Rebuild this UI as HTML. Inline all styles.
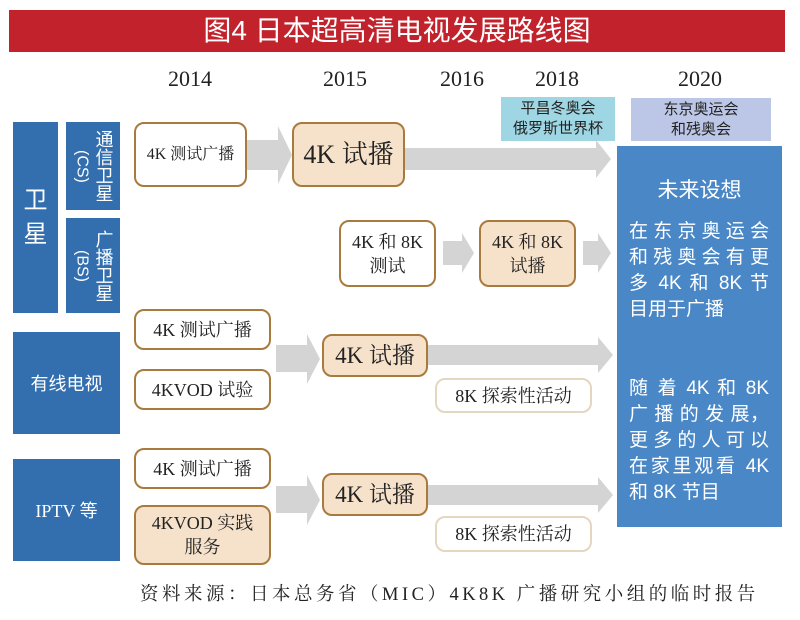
<!DOCTYPE html>
<html><head><meta charset="utf-8"><style>
body{margin:0;width:800px;height:620px;background:#fff;position:relative;overflow:hidden;font-family:"Liberation Serif","Noto Serif CJK SC","Noto Sans CJK SC",serif;}
.a{position:absolute;box-sizing:border-box;}
.blue{background:#336fae;color:#fff;display:flex;align-items:center;justify-content:center;font-family:"Liberation Sans","Noto Sans CJK SC",sans-serif;}
.bx{border:2.5px solid #a97a3e;border-radius:10px;background:#fff;display:flex;align-items:center;justify-content:center;text-align:center;color:#222;font-size:18px;line-height:24px;}
.pk{background:#f6e2ca;}
.lt{border-color:#e5d6bf;}
.yr{position:absolute;top:66px;font-size:22px;color:#222;width:80px;text-align:center;}
.ar{position:absolute;}
.j div{text-align:justify;text-align-last:justify;height:26px;}
</style></head><body>
<div class="a" style="left:9px;top:10px;width:776px;height:42px;background:#c1222b;color:#fff;font-family:'Liberation Sans','Noto Sans CJK SC',sans-serif;font-size:28px;text-align:center;line-height:42px;">图4 日本超高清电视发展路线图</div>
<div class="yr" style="left:150px">2014</div>
<div class="yr" style="left:305px">2015</div>
<div class="yr" style="left:422px">2016</div>
<div class="yr" style="left:517px">2018</div>
<div class="yr" style="left:660px">2020</div>
<div class="a" style="left:501px;top:97px;width:114px;height:44px;background:#9fd6e3;font-family:'Liberation Sans','Noto Sans CJK SC',sans-serif;font-size:15px;line-height:20px;text-align:center;padding-top:2px;color:#222">平昌冬奥会<br>俄罗斯世界杯</div>
<div class="a" style="left:631px;top:98px;width:140px;height:43px;background:#bcc6e6;font-family:'Liberation Sans','Noto Sans CJK SC',sans-serif;font-size:15px;line-height:20px;text-align:center;padding-top:2px;color:#222">东京奥运会<br>和残奥会</div>

<div class="a blue" style="left:13px;top:122px;width:45px;height:191px;font-size:24px;line-height:34px;text-align:center">卫<br>星</div>
<div class="a blue" style="left:66px;top:122px;width:54px;height:88px;font-size:18px;line-height:19px;">
 <span style="writing-mode:vertical-rl;font-size:16px;margin-right:2px">(CS)</span>
 <span style="writing-mode:vertical-rl;line-height:20px">通信卫星</span></div>
<div class="a blue" style="left:66px;top:218px;width:54px;height:95px;font-size:18px;line-height:19px;">
 <span style="writing-mode:vertical-rl;font-size:16px;margin-right:2px">(BS)</span>
 <span style="writing-mode:vertical-rl;line-height:20px">广播卫星</span></div>
<div class="a blue" style="left:13px;top:332px;width:107px;height:102px;font-size:18px;">有线电视</div>
<div class="a blue" style="left:13px;top:459px;width:107px;height:102px;font-size:18px;font-family:'Liberation Serif','Noto Sans CJK SC',serif;">IPTV 等</div>

<svg class="ar" style="left:0;top:0" width="800" height="620">
<g fill="#d4d4d4">
<polygon points="247,140 278,140 278,126 292,155 278,184 278,170 247,170"/>
<polygon points="405,148 596,148 596,140 611,159 596,178 596,170 405,170"/>
<polygon points="443,241 462,241 462,233 474,253 462,273 462,265 443,265"/>
<polygon points="583,241 598,241 598,233 611,253 598,273 598,265 583,265"/>
<polygon points="276,345 307,345 307,334 320,359 307,384 307,372 276,372"/>
<polygon points="427,345 598,345 598,337 613,355 598,373 598,365 427,365"/>
<polygon points="276,486 307,486 307,475 320,500 307,525 307,513 276,513"/>
<polygon points="427,485 598,485 598,477 613,495 598,513 598,505 427,505"/>
</g></svg>

<div class="a bx" style="left:134px;top:122px;width:113px;height:65px;font-size:16px">4K 测试广播</div>
<div class="a bx pk" style="left:292px;top:122px;width:113px;height:65px;font-size:26px">4K 试播</div>
<div class="a bx" style="left:339px;top:220px;width:97px;height:67px;">4K 和 8K<br>测试</div>
<div class="a bx pk" style="left:479px;top:220px;width:97px;height:67px;">4K 和 8K<br>试播</div>

<div class="a bx" style="left:134px;top:309px;width:137px;height:41px;">4K 测试广播</div>
<div class="a bx" style="left:134px;top:369px;width:137px;height:41px;">4KVOD 试验</div>
<div class="a bx pk" style="left:322px;top:334px;width:106px;height:43px;font-size:23px">4K 试播</div>
<div class="a bx lt" style="left:435px;top:378px;width:157px;height:35px;">8K 探索性活动</div>

<div class="a bx" style="left:134px;top:448px;width:137px;height:41px;">4K 测试广播</div>
<div class="a bx pk" style="left:134px;top:505px;width:137px;height:60px;">4KVOD 实践<br>服务</div>
<div class="a bx pk" style="left:322px;top:473px;width:106px;height:43px;font-size:23px">4K 试播</div>
<div class="a bx lt" style="left:435px;top:516px;width:157px;height:36px;">8K 探索性活动</div>

<div class="a" style="left:617px;top:146px;width:165px;height:381px;background:#4a87c7;color:#fff;font-family:'Liberation Sans','Noto Sans CJK SC',sans-serif;">
<div style="position:absolute;top:28px;width:100%;text-align:center;font-size:21px">未来设想</div>
<div class="j" style="position:absolute;top:73px;left:12px;width:140px;font-size:19px;line-height:26px;">
<div>在东京奥运会</div><div>和残奥会有更</div><div>多 4K 和 8K 节</div><div style="text-align-last:left">目用于广播</div></div>
<div class="j" style="position:absolute;top:230px;left:12px;width:140px;font-size:19px;line-height:26px;">
<div>随 着 4K 和 8K</div><div>广 播 的 发 展，</div><div>更多的人可以</div><div>在家里观看 4K</div><div style="text-align-last:left">和 8K 节目</div></div>
</div>

<div class="a" style="left:140px;top:580px;width:650px;font-size:18.5px;letter-spacing:3.5px;color:#222;white-space:nowrap">资料来源：日本总务省（MIC）4K8K 广播研究小组的临时报告</div>
</body></html>
